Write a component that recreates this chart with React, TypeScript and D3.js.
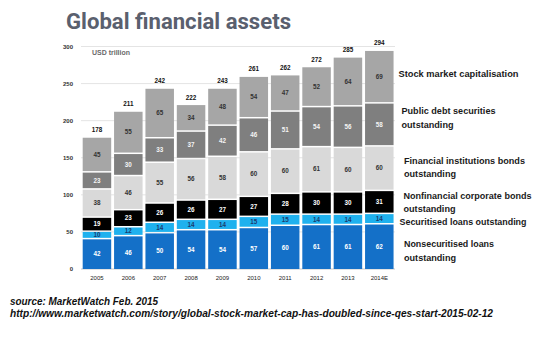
import React from "react";
import * as d3 from "d3";

const years = ["2005", "2006", "2007", "2008", "2009", "2010", "2011", "2012", "2013", "2014E"];
const totals = [178, 211, 242, 222, 243, 261, 262, 272, 285, 294];
const nonsecuritised = [42, 46, 50, 54, 54, 57, 60, 61, 61, 62];
const securitised = [10, 12, 14, 14, 14, 15, 15, 14, 14, 14];
const nonfinancial = [19, 23, 26, 26, 27, 27, 28, 30, 30, 31];
const financialInst = [38, 46, 55, 56, 58, 60, 60, 61, 60, 60];
const publicDebt = [23, 30, 33, 37, 42, 46, 51, 54, 56, 58];
const stockMarket = [45, 55, 65, 34, 48, 54, 47, 52, 64, 69];
const yTicks = [0, 50, 100, 150, 200, 250, 300];

const series = [
  { name: "Nonsecuritised loans", values: nonsecuritised, fill: "#1470c8", text: "#ffffff" },
  { name: "Securitised loans", values: securitised, fill: "#1fb1ee", text: "#1d3b6e" },
  { name: "Nonfinancial corporate bonds", values: nonfinancial, fill: "#000000", text: "#ffffff" },
  { name: "Financial institutions bonds", values: financialInst, fill: "#d9d9d9", text: "#333333" },
  { name: "Public debt securities", values: publicDebt, fill: "#7f7f7f", text: "#f4f4f4" },
  { name: "Stock market capitalisation", values: stockMarket, fill: "#a6a6a6", text: "#333333" },
];

const legend = [
  { lines: ["Stock market capitalisation"], x: 398.5, y: [76.5], w: [120] },
  { lines: ["Public debt securities", "outstanding"], x: 401.5, y: [114, 127.5], w: [94, 52] },
  { lines: ["Financial institutions bonds", "outstanding"], x: 404, y: [163.5, 177], w: [121, 52] },
  { lines: ["Nonfinancial corporate bonds", "outstanding"], x: 403.5, y: [199, 211.5], w: [128, 52] },
  { lines: ["Securitised loans outstanding"], x: 399.5, y: [224.5], w: [127] },
  { lines: ["Nonsecuritised loans", "outstanding"], x: 404, y: [247, 261], w: [90, 52] },
];

export default function App() {
  const width = 550;
  const height = 338;
  const x = d3.scaleBand<string>().domain(years).range([81.25, 395]).paddingInner(0.0915).paddingOuter(0.046);
  const y = d3.scaleLinear().domain([0, 300]).range([269, 46.5]);
  const bw = x.bandwidth();
  const labelFont = "'Liberation Sans', Arial, sans-serif";

  return (
    <svg width={width} height={height} style={{ position: "absolute", left: 0, top: 0, background: "#fff" }}>
      <rect x={0} y={0} width={width} height={height} fill="#ffffff" />
      <text x={66} y={28.5} fontFamily="Roboto, sans-serif" fontWeight={700} fontSize={22} fill="#5a606e" textLength={225} lengthAdjust="spacingAndGlyphs">
        Global financial assets
      </text>
      {yTicks.map((t) => (
        <g key={t}>
          <line x1={81} x2={395} y1={y(t)} y2={y(t)} stroke={t === 0 ? "#c8c8c8" : "#e4e4e4"} strokeWidth={1} />
          <text x={73} y={y(t) + 2} textAnchor="end" fontFamily={labelFont} fontSize={6} fontWeight={700} fill="#333">
            {t}
          </text>
        </g>
      ))}
      <text x={92} y={54.5} fontFamily={labelFont} fontSize={7} fontWeight={700} fill="#6a6a6a" textLength={38} lengthAdjust="spacingAndGlyphs">
        USD trillion
      </text>
      {years.map((yr, i) => {
        let cum = 0;
        const x0 = x(yr) as number;
        return (
          <g key={yr}>
            {series.map((s, si) => {
              const v = s.values[i];
              const yTop = y(cum + v);
              const yBot = y(cum);
              cum += v;
              const isTop = si === series.length - 1;
              const top = isTop ? yTop : yTop + 1.5;
              return (
                <g key={s.name}>
                  <rect x={x0} y={top} width={bw} height={Math.max(0, yBot - top)} fill={s.fill} />
                  <text x={x0 + bw / 2} y={(top + yBot) / 2 + 2.2} textAnchor="middle" fontFamily={labelFont} fontSize={6.3} fontWeight={700} fill={s.text}>
                    {v}
                  </text>
                </g>
              );
            })}
            <text x={x0 + bw / 2} y={y(cum) - 5.5} textAnchor="middle" fontFamily={labelFont} fontSize={6.3} fontWeight={700} fill="#111">
              {totals[i]}
            </text>
            <text x={x0 + bw / 2} y={279.5} textAnchor="middle" fontFamily={labelFont} fontSize={6} fill="#222">
              {yr}
            </text>
          </g>
        );
      })}
      {legend.map((l, li) =>
        l.lines.map((ln, k) => (
          <text key={li + "-" + k} x={l.x} y={l.y[k]} fontFamily={labelFont} fontSize={9.5} fontWeight={700} fill="#1a1a1a" textLength={l.w[k]} lengthAdjust="spacingAndGlyphs">
            {ln}
          </text>
        ))
      )}
      <text x={10} y={305} fontFamily={labelFont} fontSize={10} fontStyle="italic" fontWeight={700} fill="#111" textLength={148} lengthAdjust="spacingAndGlyphs">
        source: MarketWatch Feb. 2015
      </text>
      <text x={10} y={317} fontFamily={labelFont} fontSize={10} fontStyle="italic" fontWeight={700} fill="#111" textLength={483} lengthAdjust="spacingAndGlyphs">
        http://www.marketwatch.com/story/global-stock-market-cap-has-doubled-since-qes-start-2015-02-12
      </text>
    </svg>
  );
}
